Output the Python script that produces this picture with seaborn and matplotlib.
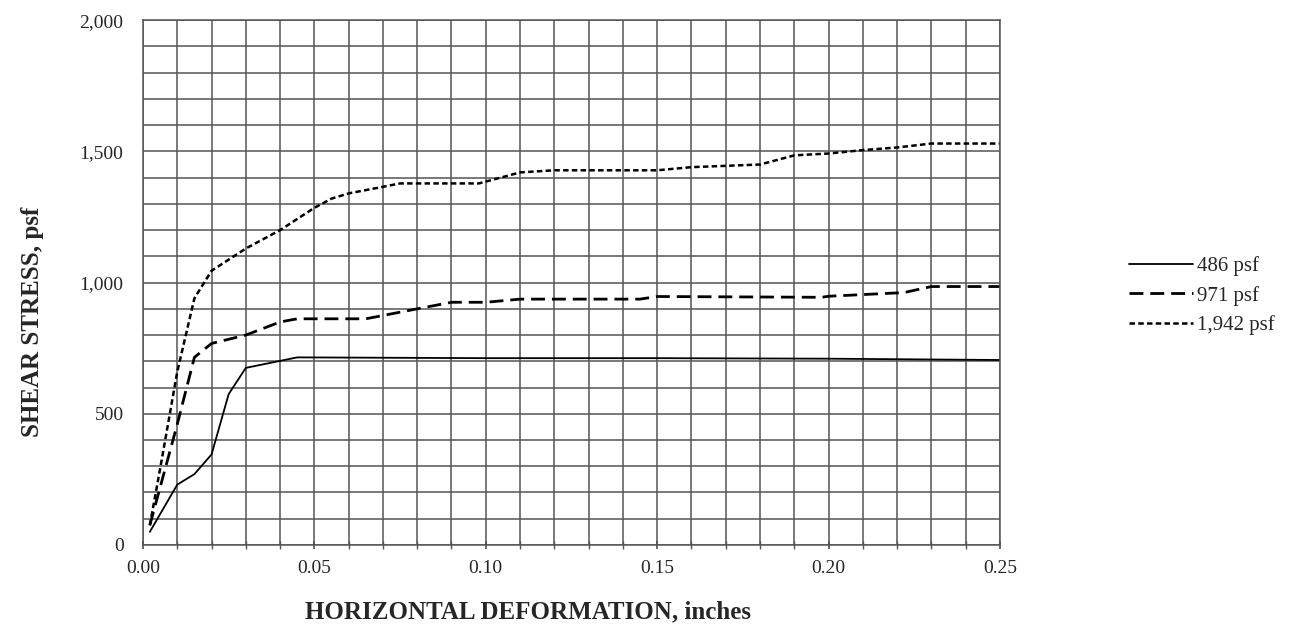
import numpy as np
import pandas as pd
import matplotlib
matplotlib.use("Agg")
import matplotlib.pyplot as plt
import seaborn as sns

# Direct shear test: shear stress vs. horizontal deformation at three normal loads
labels = ["486 psf", "971 psf", "1,942 psf"]

x_486 = [0.002, 0.010, 0.015, 0.020, 0.025, 0.030, 0.045, 0.100, 0.150, 0.200, 0.250]
y_486 = [50, 230, 270, 345, 575, 675, 715, 712, 712, 710, 705]

x_971 = [0.002, 0.010, 0.015, 0.020, 0.030, 0.040, 0.045, 0.065, 0.080, 0.090,
         0.100, 0.110, 0.145, 0.150, 0.198, 0.200, 0.222, 0.230, 0.250]
y_971 = [75, 460, 715, 768, 800, 850, 862, 862, 900, 925,
         925, 937, 937, 947, 944, 948, 962, 985, 985]

x_1942 = [0.002, 0.005, 0.010, 0.015, 0.020, 0.030, 0.040, 0.050, 0.055, 0.060,
          0.070, 0.075, 0.090, 0.098, 0.110, 0.120, 0.150, 0.160, 0.180, 0.190,
          0.200, 0.210, 0.220, 0.230, 0.250]
y_1942 = [75, 290, 660, 940, 1045, 1130, 1200, 1285, 1320, 1340,
          1365, 1378, 1378, 1378, 1420, 1428, 1428, 1440, 1450, 1485,
          1492, 1505, 1515, 1530, 1530]

x_ticks = [0.00, 0.05, 0.10, 0.15, 0.20, 0.25]
x_tick_labels = ["0.00", "0.05", "0.10", "0.15", "0.20", "0.25"]
y_ticks = [0, 500, 1000, 1500, 2000]
y_tick_labels = ["0", "500", "1,000", "1,500", "2,000"]

sns.set_theme(style="white")
plt.rcParams["font.family"] = ["Liberation Serif", "DejaVu Serif"]

fig = plt.figure(figsize=(12.95, 6.32), dpi=100)
ax = fig.add_axes([0.1104, 0.1377, 0.6618, 0.8303])

series = [
    (x_486, y_486, labels[0], dict(linestyle="-", linewidth=1.3)),
    (x_971, y_971, labels[1], dict(linestyle=(0, (5, 2.5)), linewidth=2.0)),
    (x_1942, y_1942, labels[2], dict(linestyle=(0, (2.2, 1.3)), linewidth=1.8)),
]
for xs, ys, lab, style in series:
    df = pd.DataFrame({"x": xs, "y": ys})
    sns.lineplot(data=df, x="x", y="y", ax=ax, color="black", label=lab,
                 estimator=None, sort=False, **style)

ax.set_xlim(0, 0.25)
ax.set_ylim(0, 2000)
ax.set_xticks(x_ticks)
ax.set_xticklabels(x_tick_labels)
ax.set_xticks(np.arange(0, 0.2501, 0.01), minor=True)
ax.set_yticks(y_ticks)
ax.set_yticklabels(y_tick_labels)
ax.set_yticks(np.arange(0, 2001, 100), minor=True)

ax.grid(True, which="both", color="#555555", linewidth=1.1)
ax.set_axisbelow(True)
for sp in ax.spines.values():
    sp.set_color("#555555")
    sp.set_linewidth(1.1)

ax.tick_params(axis="x", which="both", direction="inout", length=6,
               color="#555555", labelsize=14, pad=8, bottom=True)
ax.tick_params(axis="y", which="both", length=0, labelsize=14, pad=14)

ax.set_xlabel("")
ax.set_ylabel("")
fig.text(0.408, 0.032, "HORIZONTAL DEFORMATION, inches", fontsize=18,
         fontweight="bold", ha="center", va="center")
fig.text(0.025, 0.49, "SHEAR STRESS, psf", fontsize=18, fontweight="bold",
         rotation=90, ha="center", va="center")

leg = ax.legend(loc="center left", bbox_to_anchor=(0.857, 0.532),
                bbox_transform=fig.transFigure, frameon=False, fontsize=15,
                handlelength=3.1, handletextpad=0.2, labelspacing=0.45)

fig.savefig("out.png", dpi=100, facecolor="white")
